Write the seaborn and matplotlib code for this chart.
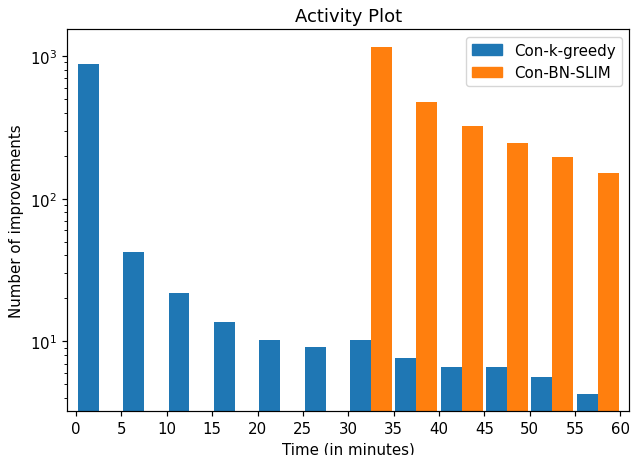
import pandas as pd
import matplotlib
matplotlib.use("Agg")
import matplotlib.pyplot as plt
import seaborn as sns

# start of each 5-minute bin
bin_starts = [0, 5, 10, 15, 20, 25, 30, 35, 40, 45, 50, 55]
greedy = [880, 42, 22, 13.6, 10.3, 9.2, 10.3, 7.6, 6.6, 6.6, 5.6, 4.3]
slim = [0, 0, 0, 0, 0, 0, 1155, 477, 325, 247, 197, 152]
methods = ["Con-k-greedy", "Con-BN-SLIM"]
colors = ["#1f77b4", "#ff7f0e"]

rows = []
for b, g, s in zip(bin_starts, greedy, slim):
    rows.append({"time": b + 2.5, "count": g, "method": methods[0]})
    rows.append({"time": b + 2.5, "count": s, "method": methods[1]})
df = pd.DataFrame(rows)

sns.set_style("ticks", {"text.color": "black", "axes.labelcolor": "black",
                        "xtick.color": "black", "ytick.color": "black",
                        "axes.edgecolor": "black"})
plt.rcParams["font.family"] = ["DejaVu Sans"]
plt.rcParams["axes.linewidth"] = 0.86

fig = plt.figure(figsize=(6.32, 4.56), dpi=100)
ax = fig.add_axes([0.106, 0.097, 0.890, 0.837])

sns.histplot(data=df, x="time", weights="count", hue="method",
             hue_order=methods, palette=colors, bins=list(range(0, 65, 5)),
             multiple="dodge", shrink=0.92, alpha=1, linewidth=0,
             ax=ax, legend=False)

ax.set_yscale("log")
ax.set_ylim(3.27, 1540)
ax.set_xlim(-1, 61)
ax.set_xticks(range(0, 61, 5))
ax.tick_params(which="major", labelsize=10.8, length=3.8, width=0.86)
ax.tick_params(which="minor", length=2.2, width=0.65)

ax.set_title("Activity Plot", fontsize=13)
ax.set_xlabel("Time (in minutes)", fontsize=10.8)
ax.set_ylabel("Number of improvements", fontsize=10.8)

handles = [plt.Rectangle((0, 0), 1, 1, color=c) for c in colors]
ax.legend(handles, methods, loc="upper right", fontsize=10.8)

fig.savefig("out.png", dpi=100)
